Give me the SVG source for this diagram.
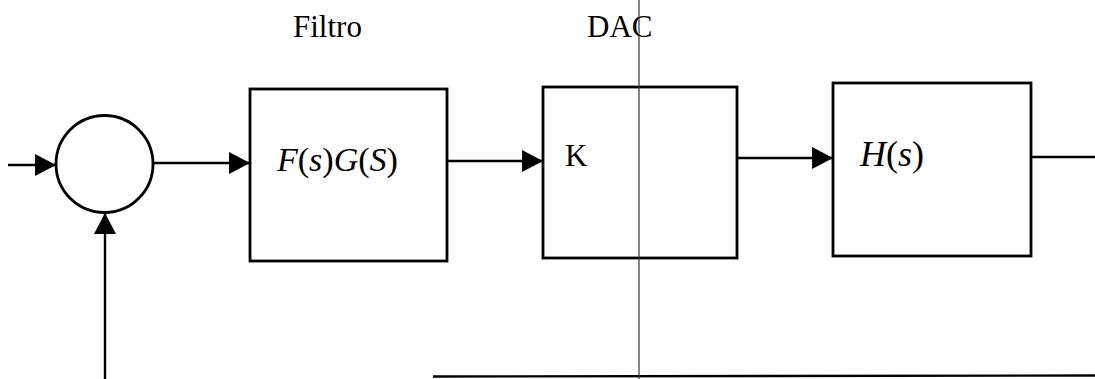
<svg xmlns="http://www.w3.org/2000/svg" width="1095" height="379" viewBox="0 0 1095 379">
  <style>
    .blk { fill: #fff; stroke: #000; stroke-width: 2.8; }
    .wire { fill: none; stroke: #000; stroke-width: 2.4; }
    .thin { fill: none; stroke: #333; stroke-width: 1.2; }
    .lbl { font-family: "Liberation Serif", "Times New Roman", serif; fill: #000; }
    .it { font-style: italic; }
  </style>
  <defs>
    <marker id="arrow" markerUnits="userSpaceOnUse" markerWidth="22" markerHeight="22" viewBox="0 0 20 21" refX="20" refY="10.5" orient="auto">
      <path d="M0,0 L20,10.5 L0,21 Z" fill="#000"/>
    </marker>
  </defs>

  <!-- top labels -->
  <text class="lbl" x="293" y="37" font-size="31">Filtro</text>
  <text class="lbl" x="587" y="37" font-size="31">DAC</text>

  <!-- summing junction -->
  <g id="sum">
    <circle cx="104.5" cy="164" r="48.5" fill="#fff" stroke="#000" stroke-width="2.8"/>
  </g>

  <!-- filter block -->
  <g id="filtro">
    <rect class="blk" x="250" y="89" width="197" height="172"/>
    <text class="lbl" x="277" y="171" font-size="34"><tspan class="it">F</tspan>(<tspan class="it">s</tspan>)<tspan class="it">G</tspan>(<tspan class="it">S</tspan>)</text>
  </g>

  <!-- DAC gain block -->
  <g id="dac">
    <rect class="blk" x="543" y="87" width="194" height="171"/>
    <text class="lbl" x="565" y="166" font-size="31">K</text>
  </g>

  <!-- plant block -->
  <g id="planta">
    <rect class="blk" x="833" y="83" width="198" height="173"/>
    <text class="lbl" x="860" y="166" font-size="36"><tspan class="it">H</tspan>(<tspan class="it">s</tspan>)</text>
  </g>

  <!-- connectors -->
  <g id="connectors">
    <line class="wire" x1="8" y1="165" x2="56" y2="165" marker-end="url(#arrow)"/>
    <line class="wire" x1="105" y1="379" x2="105" y2="213" marker-end="url(#arrow)"/>
    <line class="wire" x1="153" y1="163" x2="250" y2="163" marker-end="url(#arrow)"/>
    <line class="wire" x1="447" y1="161" x2="543" y2="161" marker-end="url(#arrow)"/>
    <line class="wire" x1="737" y1="158" x2="833" y2="158" marker-end="url(#arrow)"/>
    <line class="wire" x1="1031" y1="157" x2="1095" y2="157"/>
    <line class="wire" x1="433" y1="376.5" x2="1095" y2="375.5"/>
    <line class="thin" x1="639" y1="0" x2="639" y2="379"/>
  </g>
</svg>
